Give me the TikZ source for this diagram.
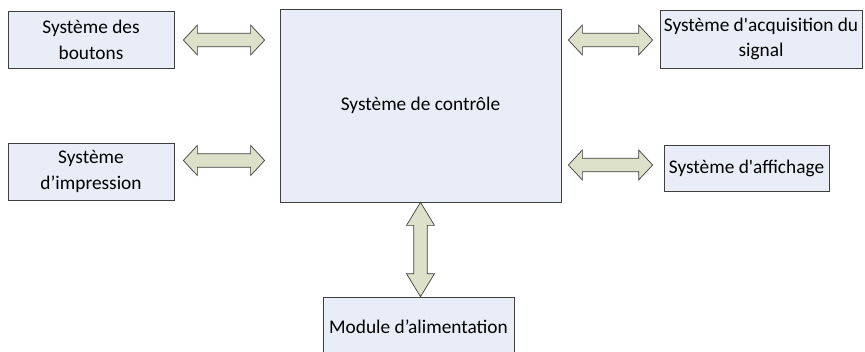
\documentclass[tikz,border=0pt]{standalone}
\usepackage{fontspec}
\setmainfont{Carlito}
\usetikzlibrary{calc}
\definecolor{boxfill}{HTML}{E8EDF7}
\definecolor{arrowfill}{HTML}{DDE1C9}
\definecolor{edge}{HTML}{3F3F3F}
\tikzset{
  bloc/.style={
    draw=edge, fill=boxfill, rectangle, line width=0.6pt, inner sep=0mm,
    align=center, font=\fontsize{16.5pt}{22pt}\selectfont
  },
  fleche/.style={
    draw=edge, fill=arrowfill, line width=0.6pt, line join=miter
  }
}
% double arrow from #1 to #2: head length, head half width, shaft half width
\newcommand{\dfleche}[5]{%
  \coordinate (h1) at ($(#1)!#3!(#2)$);
  \coordinate (h2) at ($(#2)!#3!(#1)$);
  \draw[fleche] (#1) -- ($(h1)!#4!90:(#2)$) -- ($(h1)!#5!90:(#2)$)
    -- ($(h2)!#5!-90:(#1)$) -- ($(h2)!#4!-90:(#1)$) -- (#2)
    -- ($(h2)!#4!90:(#1)$) -- ($(h2)!#5!90:(#1)$)
    -- ($(h1)!#5!-90:(#2)$) -- ($(h1)!#4!-90:(#2)$) -- cycle;
}

\begin{document}
\begin{tikzpicture}[x=0.03cm, y=-0.03cm]
   \useasboundingbox (0,0) rectangle (865,351);
   \clip (0,0) rectangle (865,351);

   \node[bloc, minimum width=4.98cm, minimum height=1.71cm] (btn) at (91, 39.5) {Système des\\boutons};
   \node[bloc, minimum width=8.43cm, minimum height=5.79cm] (ctrl) at (420.5, 105.5) {Système de contrôle};
   \node[bloc, minimum width=6.06cm, minimum height=1.74cm] (acq) at (761, 39) {Système d\textquotesingle acquisition du\\signal};
   \node[bloc, minimum width=4.98cm, minimum height=1.71cm] (impr) at (91, 171.5) {Système\\d’impression};
   \node[bloc, minimum width=4.95cm, minimum height=1.38cm] (aff) at (746.5, 168) {Système d\textquotesingle affichage};
   \node[bloc, minimum width=5.73cm, minimum height=1.8cm] (mod) at (418.5, 327) {Module d’alimentation};

   \coordinate (g1) at ($(btn.east)+(9,0.5)$);
   \coordinate (d1) at ($(ctrl.west |- g1)+(-15,0)$);
   \coordinate (g2) at ($(ctrl.east |- acq.west)+(7,1)$);
   \coordinate (d2) at ($(acq.west)+(-7,1)$);
   \coordinate (g3) at ($(impr.east)+(9,-11)$);
   \coordinate (d3) at ($(ctrl.west |- g3)+(-15,0)$);
   \coordinate (g4) at ($(ctrl.east |- aff.west)+(7,-3)$);
   \coordinate (d4) at ($(aff.west)+(-11,-3)$);
   \coordinate (g5) at (ctrl.south);
   \coordinate (d5) at (ctrl.south |- mod.north);

   \dfleche{g1}{d1}{0.42cm}{0.45cm}{0.2cm}
   \dfleche{g2}{d2}{0.42cm}{0.45cm}{0.2cm}
   \dfleche{g3}{d3}{0.42cm}{0.45cm}{0.2cm}
   \dfleche{g4}{d4}{0.42cm}{0.45cm}{0.2cm}
   \dfleche{g5}{d5}{0.69cm}{0.42cm}{0.2cm}
\end{tikzpicture}
\end{document}
